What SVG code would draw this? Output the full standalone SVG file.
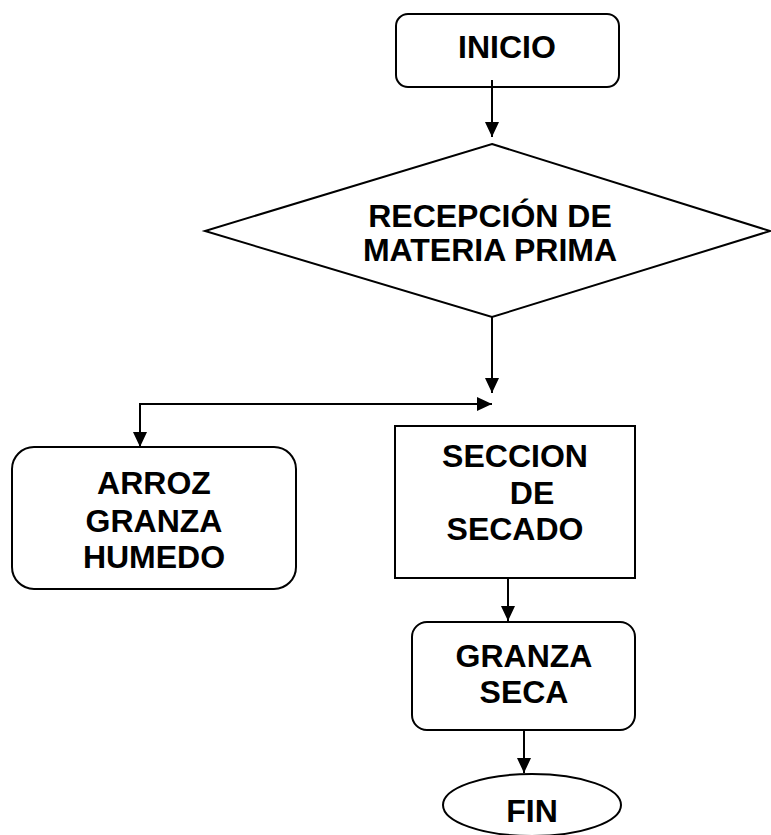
<svg xmlns="http://www.w3.org/2000/svg" width="771" height="835" viewBox="0 0 771 835">
<style>
.s{fill:#fff;stroke:#000;stroke-width:2}
.t{font-family:"Liberation Sans",Arial,sans-serif;font-weight:bold;font-size:32px;fill:#000;text-anchor:middle}
.c{fill:none;stroke:#000;stroke-width:2}
</style>
<defs>
<marker id="ah" markerUnits="userSpaceOnUse" markerWidth="16" markerHeight="16" viewBox="0 0 16 16" refX="15" refY="8" orient="auto">
<path d="M0,1 L15,8 L0,15 Z" fill="#000"/>
</marker>
</defs>
<rect width="771" height="835" fill="#fff"/>
<g id="inicio">
<rect class="s" x="396" y="14" width="223" height="73" rx="12"/>
<text class="t" x="507" y="58">INICIO</text>
</g>
<g id="recepcion">
<polygon class="s" points="492,144 770,231 492,317 205,231"/>
<text class="t" x="490" y="227">RECEPCIÓN DE</text>
<text class="t" x="490" y="261">MATERIA PRIMA</text>
</g>
<g id="arroz">
<rect class="s" x="12" y="447" width="284" height="142" rx="22"/>
<text class="t" x="154" y="494">ARROZ</text>
<text class="t" x="154" y="532">GRANZA</text>
<text class="t" x="154" y="568">HUMEDO</text>
</g>
<g id="seccion">
<rect class="s" x="395" y="426" width="240" height="152"/>
<text class="t" x="515" y="467">SECCION</text>
<text class="t" x="532" y="504">DE</text>
<text class="t" x="515" y="540">SECADO</text>
</g>
<g id="granza">
<rect class="s" x="412" y="622" width="223" height="108" rx="15"/>
<text class="t" x="524" y="667">GRANZA</text>
<text class="t" x="524" y="703">SECA</text>
</g>
<g id="fin">
<ellipse class="s" cx="532" cy="805" rx="89" ry="31"/>
<text class="t" x="532" y="822">FIN</text>
</g>
<g id="connectors">
<line class="c" x1="492" y1="80" x2="492" y2="137" marker-end="url(#ah)"/>
<line class="c" x1="492" y1="317" x2="492" y2="393" marker-end="url(#ah)"/>
<polyline class="c" points="140,447 140,404 492,404" marker-end="url(#ah)"/>
<line class="c" x1="140" y1="404" x2="140" y2="447" marker-end="url(#ah)"/>
<line class="c" x1="508" y1="578" x2="508" y2="621" marker-end="url(#ah)"/>
<line class="c" x1="524" y1="730" x2="524" y2="773" marker-end="url(#ah)"/>
</g>
</svg>
